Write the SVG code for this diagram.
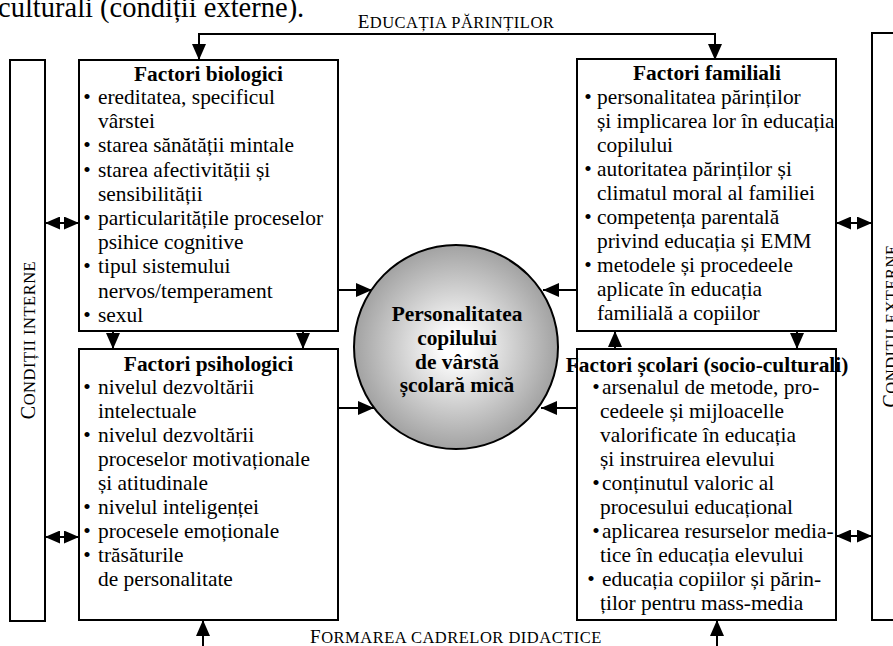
<svg xmlns="http://www.w3.org/2000/svg" width="893" height="646" viewBox="0 0 893 646">
<style>
.t{font-family:"Liberation Serif","Times New Roman",serif;font-size:21.4px;fill:#000}
.b{font-weight:bold}
.m{text-anchor:middle}
.box{fill:#fff;stroke:#000;stroke-width:2}
.c{stroke:#000;stroke-width:2;fill:none}
.cap{font-size:19px;letter-spacing:0.5px}
.sc{font-size:16.5px}
</style>
<defs>
<marker id="ah" markerUnits="userSpaceOnUse" viewBox="0 0 16 14" markerWidth="16" markerHeight="14" refX="16" refY="7" orient="auto-start-reverse">
<path d="M0,0 L16,7 L0,14 z" fill="#000"/>
</marker>
<marker id="dh" markerUnits="userSpaceOnUse" viewBox="0 0 15 13" markerWidth="15" markerHeight="13" refX="15" refY="6.5" orient="auto-start-reverse">
<path d="M0,0 L15,6.5 L0,13 z" fill="#000"/>
</marker>
<radialGradient id="g" cx="50%" cy="50%" r="50%">
<stop offset="0" stop-color="#ffffff"/>
<stop offset="0.12" stop-color="#ffffff"/>
<stop offset="1" stop-color="#a2a2a2"/>
</radialGradient>
</defs>
<text class="t" x="-2" y="17" style="font-size:28.5px">culturali (condiții externe).</text>

<g id="connectors">
<path class="c" d="M199,60 L199,34 L715,34 L715,60" marker-start="url(#ah)" marker-end="url(#ah)"/>
<line class="c" x1="45" y1="223" x2="79" y2="223" marker-start="url(#dh)" marker-end="url(#dh)"/>
<line class="c" x1="45" y1="537" x2="79" y2="537" marker-start="url(#dh)" marker-end="url(#dh)"/>
<line class="c" x1="836" y1="223" x2="872" y2="223" marker-start="url(#dh)" marker-end="url(#dh)"/>
<line class="c" x1="836" y1="536" x2="872" y2="536" marker-start="url(#dh)" marker-end="url(#dh)"/>
<line class="c" x1="113" y1="331" x2="113" y2="349" marker-end="url(#ah)"/>
<line class="c" x1="303" y1="331" x2="303" y2="349" marker-end="url(#ah)"/>
<line class="c" x1="615" y1="349" x2="615" y2="331" marker-end="url(#ah)"/>
<line class="c" x1="797" y1="331" x2="797" y2="349" marker-end="url(#ah)"/>
<line class="c" x1="203" y1="646" x2="203" y2="620" marker-end="url(#ah)"/>
<line class="c" x1="717" y1="646" x2="717" y2="620" marker-end="url(#ah)"/>
<line class="c" x1="338" y1="290" x2="372" y2="290" marker-end="url(#ah)"/>
<line class="c" x1="338" y1="408" x2="374" y2="408" marker-end="url(#ah)"/>
<line class="c" x1="577" y1="290" x2="543" y2="290" marker-end="url(#ah)"/>
<line class="c" x1="577" y1="408" x2="541" y2="408" marker-end="url(#ah)"/>
</g>

<text class="t cap" x="456" y="28" text-anchor="middle">E<tspan class="sc">DUCAȚIA PĂRINȚILOR</tspan></text>
<text class="t cap" x="456" y="643" text-anchor="middle">F<tspan class="sc">ORMAREA CADRELOR DIDACTICE</tspan></text>

<g id="conditii-interne">
<rect class="box" x="10" y="60" width="35" height="561"/>
<text class="t cap" transform="translate(35,340) rotate(-90)" text-anchor="middle" style="font-size:20px">C<tspan class="sc">ONDIȚII INTERNE</tspan></text>
</g>

<g id="conditii-externe">
<rect class="box" x="872" y="33" width="35" height="587"/>
<text class="t cap" transform="translate(897,326) rotate(-90)" text-anchor="middle" style="font-size:20px">C<tspan class="sc">ONDIȚII EXTERNE</tspan></text>
</g>

<g id="factori-biologici">
<rect class="box" x="79" y="60" width="259" height="271"/>
<text class="t b m" x="208.5" y="81">Factori biologici</text>
<text class="t m" x="87" y="104">•</text><text class="t" x="98" y="104">ereditatea, specificul</text>
<text class="t" x="98" y="128.2">vârstei</text>
<text class="t m" x="87" y="152.4">•</text><text class="t" x="98" y="152.4">starea sănătății mintale</text>
<text class="t m" x="87" y="176.6">•</text><text class="t" x="98" y="176.6">starea afectivității și</text>
<text class="t" x="98" y="200.8">sensibilității</text>
<text class="t m" x="87" y="225">•</text><text class="t" x="98" y="225">particularitățile proceselor</text>
<text class="t" x="98" y="249.2">psihice cognitive</text>
<text class="t m" x="87" y="273.4">•</text><text class="t" x="98" y="273.4">tipul sistemului</text>
<text class="t" x="98" y="297.6">nervos/temperament</text>
<text class="t m" x="87" y="321.8">•</text><text class="t" x="98" y="321.8">sexul</text>
</g>

<g id="factori-psihologici">
<rect class="box" x="79" y="349" width="259" height="271"/>
<text class="t b m" x="208.5" y="371">Factori psihologici</text>
<text class="t m" x="87" y="394">•</text><text class="t" x="98" y="394">nivelul dezvoltării</text>
<text class="t" x="98" y="418">intelectuale</text>
<text class="t m" x="87" y="442">•</text><text class="t" x="98" y="442">nivelul dezvoltării</text>
<text class="t" x="98" y="466">proceselor motivaționale</text>
<text class="t" x="98" y="490">și atitudinale</text>
<text class="t m" x="87" y="514">•</text><text class="t" x="98" y="514">nivelul inteligenței</text>
<text class="t m" x="87" y="538">•</text><text class="t" x="98" y="538">procesele emoționale</text>
<text class="t m" x="87" y="562">•</text><text class="t" x="98" y="562">trăsăturile</text>
<text class="t" x="98" y="586">de personalitate</text>
</g>

<g id="factori-familiali">
<rect class="box" x="577" y="59" width="259" height="272"/>
<text class="t b m" x="707" y="80">Factori familiali</text>
<text class="t m" x="588" y="104">•</text><text class="t" x="597" y="104">personalitatea părinților</text>
<text class="t" x="597" y="128">și implicarea lor în educația</text>
<text class="t" x="597" y="152">copilului</text>
<text class="t m" x="588" y="176">•</text><text class="t" x="597" y="176">autoritatea părinților și</text>
<text class="t" x="597" y="200">climatul moral al familiei</text>
<text class="t m" x="588" y="224">•</text><text class="t" x="597" y="224">competența parentală</text>
<text class="t" x="597" y="248">privind educația și EMM</text>
<text class="t m" x="588" y="272">•</text><text class="t" x="597" y="272">metodele și procedeele</text>
<text class="t" x="597" y="296">aplicate în educația</text>
<text class="t" x="597" y="320">familială a copiilor</text>
</g>

<g id="factori-scolari">
<rect class="box" x="577" y="349" width="259" height="271"/>
<text class="t b m" x="707" y="372">Factori școlari (socio-culturali)</text>
<text class="t m" x="596" y="394">•</text><text class="t" x="602" y="394">arsenalul de metode, pro-</text>
<text class="t" x="600" y="418">cedeele și mijloacelle</text>
<text class="t" x="600" y="442">valorificate în educația</text>
<text class="t" x="600" y="466">și instruirea elevului</text>
<text class="t m" x="596" y="490">•</text><text class="t" x="602" y="490">conținutul valoric al</text>
<text class="t" x="600" y="514">procesului educațional</text>
<text class="t m" x="596" y="538">•</text><text class="t" x="602" y="538">aplicarea resurselor media-</text>
<text class="t" x="600" y="562">tice în educația elevului</text>
<text class="t m" x="591" y="586">•</text><text class="t" x="602" y="586">educația copiilor și părin-</text>
<text class="t" x="600" y="610">ților pentru mass-media</text>
</g>

<g id="personalitatea">
<circle cx="456" cy="347" r="102" fill="url(#g)" stroke="#000" stroke-width="2"/>
<text class="t b m" x="457" y="321">Personalitatea</text>
<text class="t b m" x="457" y="345">copilului</text>
<text class="t b m" x="457" y="369">de vârstă</text>
<text class="t b m" x="457" y="392">școlară mică</text>
</g>
</svg>
